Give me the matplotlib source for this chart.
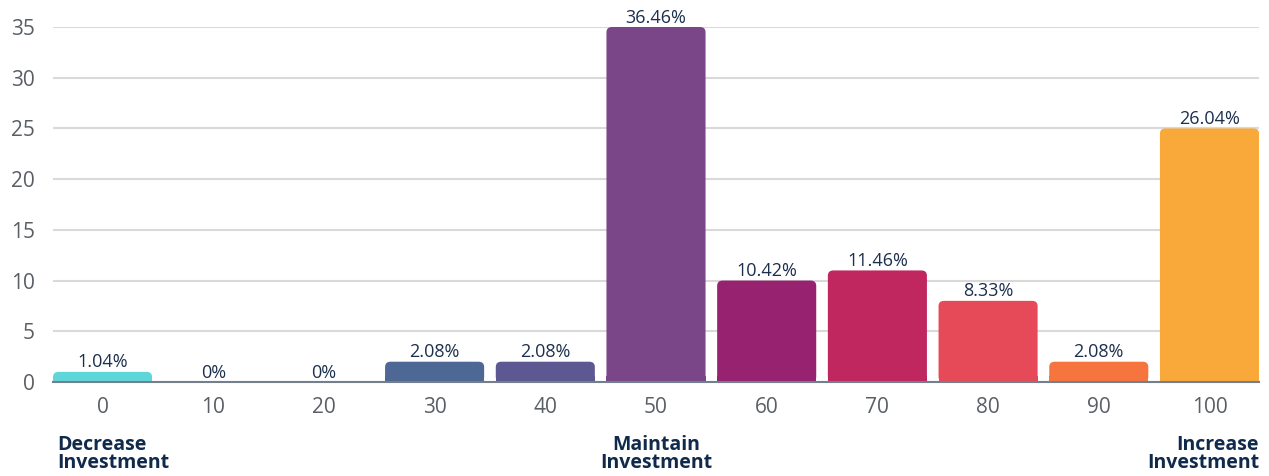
import matplotlib
matplotlib.use("Agg")
import matplotlib.pyplot as plt
from matplotlib.patches import FancyBboxPatch, Rectangle

# Survey responses: number of respondents per score (0 = decrease, 100 = increase)
scores = ["0", "10", "20", "30", "40", "50", "60", "70", "80", "90", "100"]
counts = [1, 0, 0, 2, 2, 35, 10, 11, 8, 2, 25]
bar_colors = ["#5ed6da", "#5ed6da", "#5ed6da", "#4d6894", "#5e5892", "#7b4688",
              "#962270", "#c0275f", "#e64a58", "#f6743d", "#f9a83a"]
y_ticks = [0, 5, 10, 15, 20, 25, 30, 35]
scale_labels = ["Decrease\nInvestment", "Maintain\nInvestment", "Increase\nInvestment"]

total = sum(counts)
plt.rcParams["font.family"] = ["Open Sans", "DejaVu Sans"]

fig = plt.figure(figsize=(12.69, 4.76), dpi=100)
ax = fig.add_axes([53 / 1269, 94 / 476, 1206 / 1269, 355 / 476])

x = list(range(len(scores)))
width = 0.895
bars = ax.bar(x, counts, width=width, color="none", edgecolor="none", zorder=3)

# Round the top corners of each bar
fig.canvas.draw()
px_x = ax.transData.transform((1, 0))[0] - ax.transData.transform((0, 0))[0]
px_y = ax.transData.transform((0, 1))[1] - ax.transData.transform((0, 0))[1]
aspect = px_x / px_y
r = 5 / px_x
for rect, c, col in zip(bars, counts, bar_colors):
    if c <= 0:
        continue
    x0 = rect.get_x()
    w = rect.get_width()
    ax.add_patch(FancyBboxPatch((x0, 0), w, c,
                                boxstyle=f"round,pad=0,rounding_size={r}",
                                mutation_aspect=aspect, facecolor=col,
                                edgecolor="none", zorder=3))
    ax.add_patch(Rectangle((x0, 0), w, min(c / 2, 0.6),
                           facecolor=col, edgecolor="none", zorder=3))

# Percentage labels above bars
for xi, c in zip(x, counts):
    pct = 100 * c / total
    txt = "0%" if c == 0 else f"{pct:.2f}%"
    ax.annotate(txt, (xi, c), xytext=(0, 3.2), textcoords="offset points",
                ha="center", va="baseline", fontsize=13, color="#1c2f4d",
                annotation_clip=False, zorder=4)

ax.set_xlim(-width / 2, len(scores) - 1 + width / 2)
ax.set_ylim(0, 35)
ax.set_yticks(y_ticks)
ax.set_xticks(x)
ax.set_xticklabels(scores)
ax.tick_params(axis="both", length=0, labelsize=15, labelcolor="#5a5f66")
ax.tick_params(axis="y", pad=13)
ax.tick_params(axis="x", pad=11)
for s in ["top", "right", "left"]:
    ax.spines[s].set_visible(False)
ax.spines["bottom"].set_color("#737f8c")
ax.spines["bottom"].set_linewidth(1.5)
ax.spines["bottom"].set_zorder(5)
ax.yaxis.grid(True, color="#d9d9d9", linewidth=1.5)
ax.set_axisbelow(True)

# Scale anchors under the axis
trans = ax.get_xaxis_transform()
label_y = -0.15
ax.text(-width / 2 + 0.04, label_y, scale_labels[0], transform=trans, ha="left", va="top",
        fontsize=14, fontweight="bold", color="#0f2a4a", linespacing=0.85)
ax.text(5, label_y, scale_labels[1], transform=trans, ha="center", va="top",
        fontsize=14, fontweight="bold", color="#0f2a4a", linespacing=0.85)
ax.text(10 + width / 2, label_y, scale_labels[2], transform=trans, ha="right", va="top",
        fontsize=14, fontweight="bold", color="#0f2a4a", linespacing=0.85,
        multialignment="right")

fig.savefig("out.png", dpi=100, facecolor="white")
